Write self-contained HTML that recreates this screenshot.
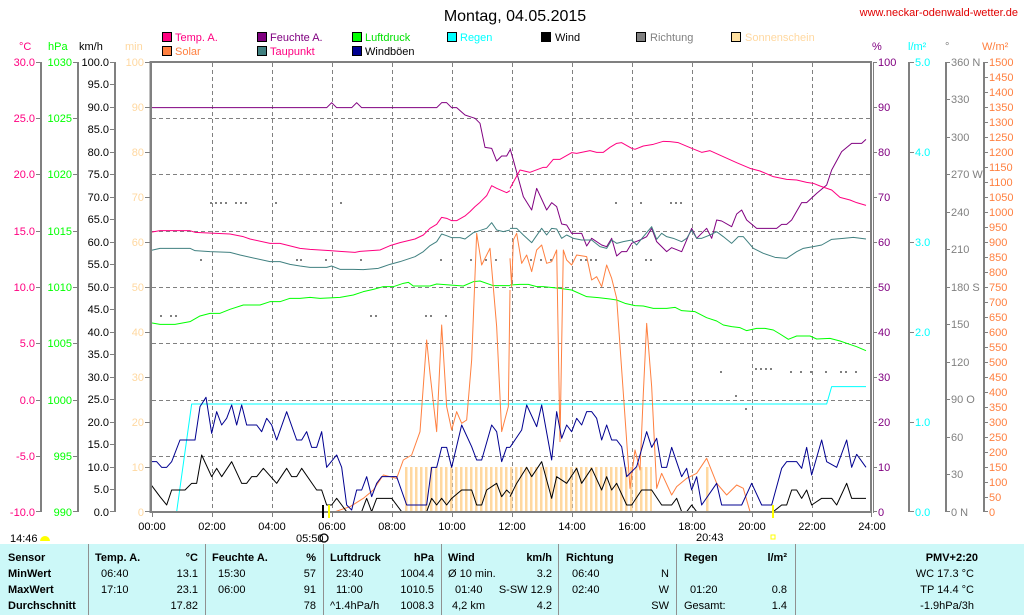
<!DOCTYPE html>
<html><head><meta charset="utf-8"><style>
html,body{margin:0;padding:0;background:#fff;}
svg{display:block;font-family:"Liberation Sans",sans-serif;font-size:11px;}
</style></head><body>
<svg width="1024" height="615" viewBox="0 0 1024 615" xmlns="http://www.w3.org/2000/svg">
<defs>
<pattern id="sun" x="405" y="0" width="5" height="10" patternUnits="userSpaceOnUse"><rect x="0" y="0" width="2.5" height="10" fill="#ffd8a0"/></pattern>
</defs>
<text x="515" y="21" font-size="16" text-anchor="middle" fill="#000">Montag, 04.05.2015</text>
<text x="1018" y="16" text-anchor="end" fill="#e00000">www.neckar-odenwald-wetter.de</text>
<!-- legend -->
<g stroke="#000" stroke-width="1">
<rect x="162.5" y="32.5" width="9" height="9" fill="#ff0080"/>
<rect x="162.5" y="46.5" width="9" height="9" fill="#ff8040"/>
<rect x="257.5" y="32.5" width="9" height="9" fill="#800080"/>
<rect x="257.5" y="46.5" width="9" height="9" fill="#408080"/>
<rect x="352.5" y="32.5" width="9" height="9" fill="#00ff00"/>
<rect x="352.5" y="46.5" width="9" height="9" fill="#000090"/>
<rect x="447.5" y="32.5" width="9" height="9" fill="#00ffff"/>
<rect x="541.5" y="32.5" width="9" height="9" fill="#000"/>
<rect x="636.5" y="32.5" width="9" height="9" fill="#808080"/>
<rect x="731.5" y="32.5" width="9" height="9" fill="#ffe0a0"/>
</g>
<text x="175" y="41" fill="#ff0080">Temp. A.</text>
<text x="175" y="55" fill="#ff8040">Solar</text>
<text x="270" y="41" fill="#800080">Feuchte A.</text>
<text x="270" y="55" fill="#ff0080">Taupunkt</text>
<text x="365" y="41" fill="#00e000">Luftdruck</text>
<text x="365" y="55" fill="#000">Windböen</text>
<text x="460" y="41" fill="#00ffff">Regen</text>
<text x="555" y="41" fill="#000">Wind</text>
<text x="650" y="41" fill="#808080">Richtung</text>
<text x="745" y="41" fill="#ffd8a0">Sonnenschein</text>
<!-- axis headers -->
<text x="19" y="50" fill="#ff0080">°C</text>
<text x="48" y="50" fill="#00ff00">hPa</text>
<text x="79" y="50" fill="#000">km/h</text>
<text x="125" y="50" fill="#ffd8a0">min</text>
<text x="872" y="50" fill="#800080">%</text>
<text x="908" y="50" fill="#00ffff">l/m²</text>
<text x="945" y="50" fill="#808080">°</text>
<text x="982" y="50" fill="#ff8040">W/m²</text>
<!-- grid -->
<g stroke="#808080" stroke-width="1" stroke-dasharray="4,3">
<line x1="152" y1="118.5" x2="871" y2="118.5"/><line x1="152" y1="174.5" x2="871" y2="174.5"/>
<line x1="152" y1="231.5" x2="871" y2="231.5"/><line x1="152" y1="287.5" x2="871" y2="287.5"/>
<line x1="152" y1="343.5" x2="871" y2="343.5"/><line x1="152" y1="400.5" x2="871" y2="400.5"/>
<line x1="152" y1="456.5" x2="871" y2="456.5"/>
<line x1="212.5" y1="63" x2="212.5" y2="511"/><line x1="272.5" y1="63" x2="272.5" y2="511"/>
<line x1="332.5" y1="63" x2="332.5" y2="511"/><line x1="392.5" y1="63" x2="392.5" y2="511"/>
<line x1="452.5" y1="63" x2="452.5" y2="511"/><line x1="512.5" y1="63" x2="512.5" y2="511"/>
<line x1="572.5" y1="63" x2="572.5" y2="511"/><line x1="632.5" y1="63" x2="632.5" y2="511"/>
<line x1="692.5" y1="63" x2="692.5" y2="511"/><line x1="752.5" y1="63" x2="752.5" y2="511"/>
<line x1="812.5" y1="63" x2="812.5" y2="511"/>
</g>
<!-- sunshine -->
<rect x="405" y="467" width="247" height="45" fill="url(#sun)"/>
<rect x="706" y="467" width="2.5" height="45" fill="#ffd8a0"/>
<!-- direction dots -->
<g fill="#808080">
<rect x="210" y="202" width="2" height="2"/><rect x="215" y="202" width="2" height="2"/><rect x="220" y="202" width="2" height="2"/><rect x="225" y="202" width="2" height="2"/>
<rect x="235" y="202" width="2" height="2"/><rect x="240" y="202" width="2" height="2"/><rect x="245" y="202" width="2" height="2"/><rect x="275" y="202" width="2" height="2"/><rect x="340" y="202" width="2" height="2"/>
<rect x="200" y="259" width="2" height="2"/><rect x="296" y="259" width="2" height="2"/><rect x="300" y="259" width="2" height="2"/><rect x="325" y="259" width="2" height="2"/><rect x="360" y="259" width="2" height="2"/><rect x="440" y="259" width="2" height="2"/><rect x="470" y="259" width="2" height="2"/><rect x="485" y="259" width="2" height="2"/><rect x="495" y="259" width="2" height="2"/>
<rect x="160" y="315" width="2" height="2"/><rect x="170" y="315" width="2" height="2"/><rect x="175" y="315" width="2" height="2"/><rect x="370" y="315" width="2" height="2"/><rect x="375" y="315" width="2" height="2"/><rect x="425" y="315" width="2" height="2"/><rect x="430" y="315" width="2" height="2"/><rect x="445" y="315" width="2" height="2"/>
<rect x="530" y="259" width="2" height="2"/><rect x="540" y="259" width="2" height="2"/><rect x="550" y="259" width="2" height="2"/><rect x="580" y="259" width="2" height="2"/><rect x="585" y="259" width="2" height="2"/><rect x="590" y="259" width="2" height="2"/><rect x="595" y="259" width="2" height="2"/><rect x="645" y="259" width="2" height="2"/><rect x="650" y="259" width="2" height="2"/>
<rect x="615" y="202" width="2" height="2"/><rect x="640" y="202" width="2" height="2"/><rect x="670" y="202" width="2" height="2"/><rect x="675" y="202" width="2" height="2"/><rect x="680" y="202" width="2" height="2"/>
<rect x="720" y="371" width="2" height="2"/><rect x="755" y="368" width="2" height="2"/><rect x="760" y="368" width="2" height="2"/><rect x="765" y="368" width="2" height="2"/><rect x="770" y="368" width="2" height="2"/><rect x="790" y="371" width="2" height="2"/><rect x="800" y="371" width="2" height="2"/><rect x="810" y="371" width="2" height="2"/><rect x="825" y="371" width="2" height="2"/><rect x="840" y="371" width="2" height="2"/><rect x="845" y="371" width="2" height="2"/><rect x="855" y="371" width="2" height="2"/><rect x="735" y="395" width="2" height="2"/><rect x="745" y="408" width="2" height="2"/>
</g>
<!-- series in zoom coords -->
<g fill="none" stroke-width="1" stroke-linejoin="round">
<g transform="translate(150,60) scale(0.33333)">
<polyline vector-effect="non-scaling-stroke" stroke="#00ffff" points="80,1355 125,1032 1080,1032"/>
<polyline vector-effect="non-scaling-stroke" stroke="#800080" points="0,143 530,143 545,128 560,143 605,143 620,128 635,143 860,143 875,128 890,128 905,143 920,143 945,165 960,170 975,175 990,190 1005,262 1025,265 1040,303 1055,288 1070,288 1080,270"/>
<polyline vector-effect="non-scaling-stroke" stroke="#ff0080" points="0,517 30,512 120,512 135,517 240,522 280,530 300,537 360,550 390,550 450,565 480,568 540,572 570,574 615,577 630,574 690,570 720,557 750,548 795,537 820,525 840,505 860,493 875,472 890,475 905,482 920,482 945,468 960,455 975,440 990,427 1010,407 1025,377 1040,385 1070,398 1080,392"/>
<polyline vector-effect="non-scaling-stroke" stroke="#408080" points="0,572 30,565 120,565 135,572 180,575 240,577 270,585 360,605 390,605 420,613 450,618 480,622 530,622 545,618 570,628 610,628 640,629 685,625 720,613 750,605 795,590 820,575 840,557 860,545 875,522 890,527 905,533 930,533 945,537 970,518 1010,505 1025,488 1040,510 1060,515 1080,510"/>
<polyline vector-effect="non-scaling-stroke" stroke="#00ff00" points="0,788 30,793 75,793 120,785 150,768 180,760 210,760 240,748 280,735 330,735 360,725 390,725 420,715 450,715 480,712 510,715 570,712 610,705 640,695 670,688 700,680 730,680 760,670 775,667 790,678 840,678 860,672 900,675 940,678 970,665 990,663 1030,677 1080,677"/>
<polyline vector-effect="non-scaling-stroke" stroke="#ff8040" points="555,1355 600,1340 640,1315 670,1290 700,1245 740,1255 760,1200 785,1185 810,1115 830,840 840,940 860,1115 875,795 890,1040 905,1110 920,1055 935,1090 950,1080 965,900 980,520 995,615 1020,565 1040,800 1055,1115 1075,1040 1080,690"/>
<polyline vector-effect="non-scaling-stroke" stroke="#000090" points="0,1205 20,1205 35,1222 50,1222 65,1205 90,1140 135,1140 150,1040 168,1012 185,1120 200,1055 215,1095 230,1075 245,1035 260,1095 275,1035 290,1095 320,1095 335,1115 350,1075 365,1095 380,1140 410,1055 440,1140 455,1140 470,1115 485,1162 500,1162 515,1115 530,1222 560,1185 575,1222 590,1335 605,1350 620,1290 635,1290 650,1250 665,1310 680,1270 695,1250 740,1250 770,1335 830,1335 845,1222 860,1222 875,1162 890,1162 905,1222 935,1095 965,1160 980,1200 995,1200 1025,1095 1040,1115 1055,1205 1070,1162 1080,1162"/>
<polyline vector-effect="non-scaling-stroke" stroke="#000" points="0,1270 30,1310 50,1335 65,1290 105,1290 125,1270 140,1270 155,1185 185,1250 200,1225 215,1250 245,1205 275,1270 290,1270 305,1250 320,1250 340,1225 380,1270 410,1225 425,1250 440,1250 455,1225 500,1290 515,1290 530,1335 545,1335 560,1315 575,1335 590,1355 635,1355 650,1315 665,1355 680,1315 725,1315 755,1355 830,1355 845,1315 860,1335 875,1315 890,1335 905,1315 935,1290 965,1290 980,1335 995,1335 1010,1290 1040,1270 1055,1310 1070,1290 1080,1300"/>
</g>
<g transform="translate(510,60) scale(0.33333)">
<polyline vector-effect="non-scaling-stroke" stroke="#00ffff" points="0,1032 950,1032 965,980 1068,980"/>
<polyline vector-effect="non-scaling-stroke" stroke="#800080" points="0,265 10,300 40,410 65,450 80,385 110,450 125,428 140,440 155,492 170,495 185,520 215,520 230,558 245,535 275,555 290,560 305,535 320,588 335,575 350,575 365,550 390,540 410,530 425,505 440,545 470,575 485,563 515,575 545,505 560,535 590,505 605,535 620,480 635,483 665,500 680,462 695,450 710,480 740,505 800,505 815,493 830,493 845,480 875,428 890,428 920,400 950,375 965,330 995,275 1025,250 1055,250 1068,238"/>
<polyline vector-effect="non-scaling-stroke" stroke="#ff0080" points="0,385 30,330 60,337 100,322 110,322 130,298 150,298 185,278 200,280 240,272 260,277 280,277 300,262 320,250 335,248 365,265 375,268 400,258 430,253 460,244 480,245 505,248 545,265 575,277 600,272 640,290 680,308 720,325 750,333 790,350 830,358 860,360 890,367 910,370 930,378 965,390 990,412 1020,420 1040,428 1068,436"/>
<polyline vector-effect="non-scaling-stroke" stroke="#408080" points="0,505 20,505 40,525 65,548 95,505 110,525 125,505 140,507 155,535 170,525 190,535 215,540 245,540 270,560 290,565 305,540 320,550 340,545 365,540 380,555 400,530 425,500 440,538 455,520 470,530 490,535 515,545 530,535 545,510 560,535 575,535 600,525 620,515 640,530 665,550 685,530 700,530 730,565 760,580 795,592 830,595 860,575 880,565 910,560 935,555 965,538 1000,535 1030,532 1068,537"/>
<polyline vector-effect="non-scaling-stroke" stroke="#00ff00" points="0,675 30,673 55,673 80,680 100,680 150,685 185,690 230,710 265,713 300,717 320,720 345,730 375,737 400,738 430,745 470,745 495,742 515,752 555,755 590,773 620,783 640,795 665,800 690,803 710,812 740,805 765,805 790,810 810,822 835,838 860,828 900,828 920,837 960,835 990,843 1010,850 1040,860 1068,872"/>
<polyline vector-effect="non-scaling-stroke" stroke="#ff8040" points="0,595 5,680 10,540 20,520 35,610 50,585 65,635 80,570 95,555 110,610 125,605 140,570 150,1145 160,570 170,600 185,615 200,585 230,590 245,660 260,650 275,680 290,615 305,655 320,715 340,1000 360,1285 375,1170 390,1230 400,1000 410,790 425,980 440,1285 455,1240 485,1305 500,1280 530,1255 560,1240 590,1195 620,1270 650,1305 680,1275 700,1285 720,1355"/>
<polyline vector-effect="non-scaling-stroke" stroke="#000090" points="0,1162 35,1110 50,1035 80,1100 95,1035 125,1200 140,1055 155,1135 170,1095 185,1115 200,1075 215,1095 230,1055 245,1055 260,1075 275,1140 290,1095 305,1140 320,1140 335,1160 350,1250 380,1220 410,1115 425,1162 440,1135 455,1222 470,1222 485,1162 515,1250 530,1225 545,1290 560,1250 575,1335 620,1270 635,1335 695,1335 725,1270 755,1335 785,1335 815,1225 830,1205 860,1205 875,1225 890,1162 905,1245 935,1140 950,1205 980,1222 1010,1140 1025,1222 1040,1183 1068,1222"/>
<polyline vector-effect="non-scaling-stroke" stroke="#000" points="0,1310 20,1270 50,1222 65,1250 95,1205 125,1315 140,1250 170,1270 200,1225 215,1270 245,1225 275,1290 290,1250 305,1290 320,1270 350,1335 365,1335 395,1290 425,1290 455,1335 485,1335 500,1315 515,1355 530,1355 545,1335 560,1355 755,1355 790,1355 815,1335 830,1335 845,1290 860,1290 875,1315 890,1290 905,1335 935,1315 965,1315 980,1335 1010,1270 1025,1315 1068,1315"/>
</g>
</g>
<!-- frame -->
<rect x="151" y="62" width="720" height="450" fill="none" stroke="#808080" stroke-width="2"/>
<line x1="150.5" y1="61" x2="150.5" y2="513" stroke="#808080" stroke-width="2"/>
<line x1="873.5" y1="62" x2="873.5" y2="513" stroke="#808080" stroke-width="1"/>
<!-- left axes -->
<g stroke="#808080" stroke-width="2">
<line x1="41" y1="62" x2="41" y2="512"/><line x1="78" y1="62" x2="78" y2="512"/><line x1="115" y1="62" x2="115" y2="512"/>
<line x1="909" y1="62" x2="909" y2="512"/><line x1="946" y1="62" x2="946" y2="512"/><line x1="984" y1="62" x2="984" y2="512"/>
</g>
<g stroke="#808080" stroke-width="1">
<path d="M36 62.5h5M36 118.5h5M36 174.5h5M36 231.5h5M36 287.5h5M36 343.5h5M36 400.5h5M36 456.5h5M36 511.5h5"/>
<path d="M73 62.5h5M73 118.5h5M73 174.5h5M73 231.5h5M73 287.5h5M73 343.5h5M73 400.5h5M73 456.5h5M73 511.5h5"/>
<path d="M110 62.5h5M110 84.5h5M110 107.5h5M110 129.5h5M110 152.5h5M110 174.5h5M110 197.5h5M110 219.5h5M110 242.5h5M110 264.5h5M110 287.5h5M110 309.5h5M110 332.5h5M110 354.5h5M110 377.5h5M110 399.5h5M110 422.5h5M110 444.5h5M110 467.5h5M110 489.5h5M110 511.5h5"/>
<path d="M145 62.5h5M145 107.5h5M145 152.5h5M145 197.5h5M145 242.5h5M145 287.5h5M145 332.5h5M145 377.5h5M145 422.5h5M145 467.5h5M145 511.5h5"/>
<path d="M873 62.5h4M873 107.5h4M873 152.5h4M873 197.5h4M873 242.5h4M873 287.5h4M873 332.5h4M873 377.5h4M873 422.5h4M873 467.5h4M873 511.5h4"/>
<path d="M909 62.5h5M909 152.5h5M909 242.5h5M909 332.5h5M909 422.5h5M909 511.5h5"/>
<path d="M946 62.5h4M946 99.5h4M946 137.5h4M946 174.5h4M946 212.5h4M946 249.5h4M946 287.5h4M946 324.5h4M946 362.5h4M946 399.5h4M946 437.5h4M946 474.5h4M946 511.5h4"/>
<path d="M984 62.5h4M984 77.5h4M984 92.5h4M984 107.5h4M984 122.5h4M984 137.5h4M984 152.5h4M984 167.5h4M984 182.5h4M984 197.5h4M984 212.5h4M984 227.5h4M984 242.5h4M984 257.5h4M984 272.5h4M984 287.5h4M984 302.5h4M984 317.5h4M984 332.5h4M984 347.5h4M984 362.5h4M984 377.5h4M984 392.5h4M984 407.5h4M984 422.5h4M984 437.5h4M984 452.5h4M984 467.5h4M984 482.5h4M984 497.5h4M984 511.5h4"/>
<path d="M152.5 512v5M212.5 512v5M272.5 512v5M332.5 512v5M392.5 512v5M452.5 512v5M512.5 512v5M572.5 512v5M632.5 512v5M692.5 512v5M752.5 512v5M812.5 512v5M871.5 512v5"/>
</g>
<g text-anchor="end" fill="#ff0080">
<text x="35" y="66">30.0</text><text x="35" y="122">25.0</text><text x="35" y="178">20.0</text><text x="35" y="235">15.0</text><text x="35" y="291">10.0</text><text x="35" y="347">5.0</text><text x="35" y="404">0.0</text><text x="35" y="460">-5.0</text><text x="35" y="516">-10.0</text>
</g>
<g text-anchor="end" fill="#00ff00">
<text x="72" y="66">1030</text><text x="72" y="122">1025</text><text x="72" y="178">1020</text><text x="72" y="235">1015</text><text x="72" y="291">1010</text><text x="72" y="347">1005</text><text x="72" y="404">1000</text><text x="72" y="460">995</text><text x="72" y="516">990</text>
</g>
<g text-anchor="end" fill="#000">
<text x="109" y="66">100.0</text><text x="109" y="88">95.0</text><text x="109" y="111">90.0</text><text x="109" y="133">85.0</text><text x="109" y="156">80.0</text><text x="109" y="178">75.0</text><text x="109" y="201">70.0</text><text x="109" y="223">65.0</text><text x="109" y="246">60.0</text><text x="109" y="268">55.0</text><text x="109" y="291">50.0</text><text x="109" y="313">45.0</text><text x="109" y="336">40.0</text><text x="109" y="358">35.0</text><text x="109" y="381">30.0</text><text x="109" y="403">25.0</text><text x="109" y="426">20.0</text><text x="109" y="448">15.0</text><text x="109" y="471">10.0</text><text x="109" y="493">5.0</text><text x="109" y="516">0.0</text>
</g>
<g text-anchor="end" fill="#ffd8a0">
<text x="144" y="66">100</text><text x="144" y="111">90</text><text x="144" y="156">80</text><text x="144" y="201">70</text><text x="144" y="246">60</text><text x="144" y="291">50</text><text x="144" y="336">40</text><text x="144" y="381">30</text><text x="144" y="426">20</text><text x="144" y="471">10</text><text x="144" y="516">0</text>
</g>
<g fill="#800080">
<text x="878" y="66">100</text><text x="878" y="111">90</text><text x="878" y="156">80</text><text x="878" y="201">70</text><text x="878" y="246">60</text><text x="878" y="291">50</text><text x="878" y="336">40</text><text x="878" y="381">30</text><text x="878" y="426">20</text><text x="878" y="471">10</text><text x="878" y="516">0</text>
</g>
<g fill="#00ffff">
<text x="915" y="66">5.0</text><text x="915" y="156">4.0</text><text x="915" y="246">3.0</text><text x="915" y="336">2.0</text><text x="915" y="426">1.0</text><text x="915" y="516">0.0</text>
</g>
<g fill="#808080">
<text x="951" y="66">360 N</text><text x="951" y="103">330</text><text x="951" y="141">300</text><text x="951" y="178">270 W</text><text x="951" y="216">240</text><text x="951" y="253">210</text><text x="951" y="291">180 S</text><text x="951" y="328">150</text><text x="951" y="366">120</text><text x="951" y="403">90 O</text><text x="951" y="441">60</text><text x="951" y="478">30</text><text x="951" y="516">0 N</text>
</g>
<g fill="#ff8040">
<text x="989" y="66">1500</text><text x="989" y="81">1450</text><text x="989" y="96">1400</text><text x="989" y="111">1350</text><text x="989" y="126">1300</text><text x="989" y="141">1250</text><text x="989" y="156">1200</text><text x="989" y="171">1150</text><text x="989" y="186">1100</text><text x="989" y="201">1050</text><text x="989" y="216">1000</text><text x="989" y="231">950</text><text x="989" y="246">900</text><text x="989" y="261">850</text><text x="989" y="276">800</text><text x="989" y="291">750</text><text x="989" y="306">700</text><text x="989" y="321">650</text><text x="989" y="336">600</text><text x="989" y="351">550</text><text x="989" y="366">500</text><text x="989" y="381">450</text><text x="989" y="396">400</text><text x="989" y="411">350</text><text x="989" y="426">300</text><text x="989" y="441">250</text><text x="989" y="456">200</text><text x="989" y="471">150</text><text x="989" y="486">100</text><text x="989" y="501">50</text><text x="989" y="516">0</text>
</g>
<!-- time labels -->
<g text-anchor="middle" fill="#000">
<text x="152" y="530">00:00</text><text x="212" y="530">02:00</text><text x="272" y="530">04:00</text><text x="332" y="530">06:00</text><text x="392" y="530">08:00</text><text x="452" y="530">10:00</text><text x="512" y="530">12:00</text><text x="572" y="530">14:00</text><text x="632" y="530">16:00</text><text x="692" y="530">18:00</text><text x="752" y="530">20:00</text><text x="812" y="530">22:00</text><text x="872" y="530">24:00</text>
</g>
<rect x="322" y="505" width="2" height="13" fill="#000"/>
<rect x="328" y="505" width="2" height="13" fill="#ffff00"/>
<rect x="772" y="505" width="2" height="13" fill="#ffff00"/>
<text x="10" y="542" fill="#000">14:46</text>
<path d="M40 541 a5 5 0 0 1 10 0z" fill="#ffff00"/>
<text x="296" y="542" fill="#000">05:50</text>
<circle cx="324" cy="538" r="4" fill="none" stroke="#000" stroke-width="1.3"/>
<text x="696" y="541" fill="#000">20:43</text>
<rect x="771" y="535" width="4" height="4" fill="none" stroke="#ffff00"/>
<!-- table -->
<rect x="0" y="544" width="1024" height="71" fill="#ccf8f8"/>
<g stroke="#909090" stroke-width="1">
<line x1="88.5" y1="544" x2="88.5" y2="615"/><line x1="205.5" y1="544" x2="205.5" y2="615"/><line x1="323.5" y1="544" x2="323.5" y2="615"/><line x1="441.5" y1="544" x2="441.5" y2="615"/><line x1="558.5" y1="544" x2="558.5" y2="615"/><line x1="676.5" y1="544" x2="676.5" y2="615"/><line x1="795.5" y1="544" x2="795.5" y2="615"/>
</g>
<g font-weight="bold" fill="#000">
<text x="8" y="561">Sensor</text><text x="8" y="577">MinWert</text><text x="8" y="593">MaxWert</text><text x="8" y="609">Durchschnitt</text>
<text x="95" y="561">Temp. A.</text><text x="198" y="561" text-anchor="end">°C</text>
<text x="212" y="561">Feuchte A.</text><text x="316" y="561" text-anchor="end">%</text>
<text x="330" y="561">Luftdruck</text><text x="434" y="561" text-anchor="end">hPa</text>
<text x="448" y="561">Wind</text><text x="552" y="561" text-anchor="end">km/h</text>
<text x="566" y="561">Richtung</text>
<text x="684" y="561">Regen</text><text x="787" y="561" text-anchor="end">l/m²</text>
<text x="978" y="561" text-anchor="end">PMV+2:20</text>
</g>
<g fill="#000">
<text x="101" y="577">06:40</text><text x="198" y="577" text-anchor="end">13.1</text>
<text x="101" y="593">17:10</text><text x="198" y="593" text-anchor="end">23.1</text>
<text x="198" y="609" text-anchor="end">17.82</text>
<text x="218" y="577">15:30</text><text x="316" y="577" text-anchor="end">57</text>
<text x="218" y="593">06:00</text><text x="316" y="593" text-anchor="end">91</text>
<text x="316" y="609" text-anchor="end">78</text>
<text x="336" y="577">23:40</text><text x="434" y="577" text-anchor="end">1004.4</text>
<text x="336" y="593">11:00</text><text x="434" y="593" text-anchor="end">1010.5</text>
<text x="330" y="609">^1.4hPa/h</text><text x="434" y="609" text-anchor="end">1008.3</text>
<text x="448" y="577">Ø 10 min.</text><text x="552" y="577" text-anchor="end">3.2</text>
<text x="455" y="593">01:40</text><text x="552" y="593" text-anchor="end">S-SW 12.9</text>
<text x="452" y="609">4,2 km</text><text x="552" y="609" text-anchor="end">4.2</text>
<text x="572" y="577">06:40</text><text x="669" y="577" text-anchor="end">N</text>
<text x="572" y="593">02:40</text><text x="669" y="593" text-anchor="end">W</text>
<text x="669" y="609" text-anchor="end">SW</text>
<text x="690" y="593">01:20</text><text x="787" y="593" text-anchor="end">0.8</text>
<text x="684" y="609">Gesamt:</text><text x="787" y="609" text-anchor="end">1.4</text>
<text x="974" y="577" text-anchor="end">WC 17.3 °C</text>
<text x="974" y="593" text-anchor="end">TP 14.4 °C</text>
<text x="974" y="609" text-anchor="end">-1.9hPa/3h</text>
</g>
</svg>
</body></html>
